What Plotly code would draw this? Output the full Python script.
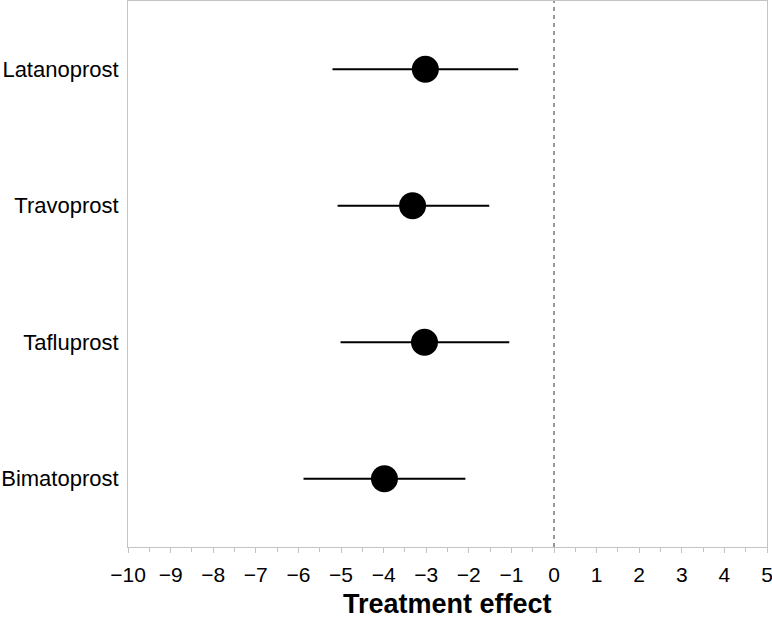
import plotly.graph_objects as go

drugs = ["Latanoprost", "Travoprost", "Tafluprost", "Bimatoprost"]
effect = [-3.02, -3.32, -3.04, -3.98]
ci_low = [-5.20, -5.08, -5.01, -5.88]
ci_high = [-0.84, -1.52, -1.05, -2.08]
x_ticks = list(range(-10, 6))
x_title = "Treatment effect"

err_plus = [h - e for h, e in zip(ci_high, effect)]
err_minus = [e - l for e, l in zip(effect, ci_low)]

fig = go.Figure()
fig.add_trace(go.Scatter(
    x=effect, y=drugs, mode="markers",
    marker=dict(color="black", size=27),
    error_x=dict(type="data", symmetric=False, array=err_plus, arrayminus=err_minus,
                 color="black", thickness=2, width=0),
    showlegend=False,
))
fig.add_shape(type="line", x0=0, x1=0, y0=0, y1=1, xref="x", yref="paper",
              line=dict(color="#333333", width=1, dash="4px,4px"))
fig.add_annotation(text="<b>" + x_title + "</b>", xref="paper", yref="paper",
                   x=0.5, y=0, xanchor="center", yanchor="middle", yshift=-57,
                   borderpad=0, showarrow=False, font=dict(size=27, color="black"))

fig.update_layout(
    width=772, height=620,
    margin=dict(l=128, r=5, t=1, b=73),
    plot_bgcolor="white", paper_bgcolor="white",
    font=dict(family="Liberation Sans, Arial, sans-serif", color="black"),
    xaxis=dict(
        range=[-10, 5], tickvals=x_ticks, ticktext=[str(v).replace("-", "\u2212") for v in x_ticks],
        showgrid=False, zeroline=False, automargin=False,
        showline=True, mirror=True, linecolor="#c4c4c4", linewidth=1,
        ticks="outside", ticklen=5, tickcolor="#c4c4c4",
        minor=dict(dtick=0.5, ticks="outside", ticklen=4, tickcolor="#c4c4c4", showgrid=False),
        tickfont=dict(size=21, color="black"), ticklabelstandoff=4,
        ticklabeloverflow="allow",
    ),
    yaxis=dict(
        categoryorder="array", categoryarray=drugs,
        range=[3.5, -0.5], automargin=False,
        showgrid=False, zeroline=False,
        showline=True, mirror=True, linecolor="#c4c4c4", linewidth=1,
        ticks="", ticklabelstandoff=4,
        tickfont=dict(size=22, color="black"),
    ),
)

fig.write_html("out.html", config={"displayModeBar": False},
               post_script="document.body.style.margin='0';")
